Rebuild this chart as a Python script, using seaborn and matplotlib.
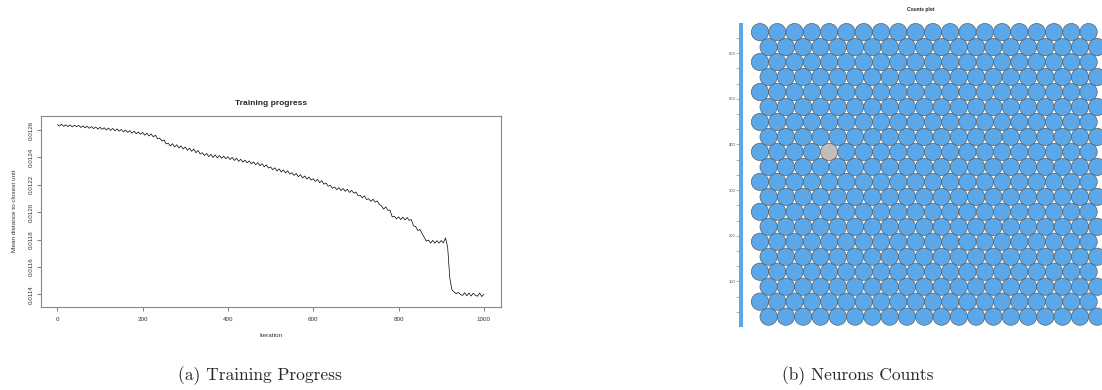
import numpy as np
import matplotlib
matplotlib.use("Agg")
import matplotlib.pyplot as plt
from matplotlib.patches import Circle
from matplotlib.collections import PatchCollection
import seaborn as sns

# ---------------------------------------------------------
# Data
# ---------------------------------------------------------
iterations = np.arange(0, 1001, 5)

# mean distance to closest unit, in units of 1e-6 (one row = 50 iterations)
mean_dist_e6 = [
    12640, 12628, 12642, 12626, 12638, 12624, 12637, 12622, 12634, 12625,
    12634, 12618, 12630, 12615, 12628, 12612, 12625, 12610, 12622, 12606,
    12620, 12604, 12616, 12600, 12614, 12597, 12611, 12594, 12608, 12591,
    12604, 12586, 12600, 12582, 12595, 12576, 12591, 12572, 12586, 12568,
    12582, 12562, 12577, 12556, 12571, 12549, 12562, 12536, 12541, 12519,
    12528, 12498, 12504, 12483, 12500, 12476, 12492, 12468, 12484, 12461,
    12476, 12452, 12468, 12444, 12461, 12434, 12450, 12424, 12434, 12414,
    12428, 12405, 12422, 12399, 12418, 12396, 12414, 12393, 12409, 12390,
    12405, 12384, 12400, 12377, 12394, 12371, 12386, 12365, 12380, 12360,
    12374, 12352, 12367, 12346, 12362, 12339, 12354, 12331, 12345, 12322,
    12330, 12310, 12324, 12300, 12316, 12293, 12308, 12286, 12302, 12278,
    12288, 12268, 12283, 12259, 12274, 12250, 12264, 12241, 12256, 12234,
    12244, 12224, 12239, 12215, 12230, 12204, 12214, 12189, 12196, 12174,
    12184, 12164, 12179, 12157, 12173, 12152, 12167, 12144, 12159, 12138,
    12147, 12122, 12124, 12104, 12119, 12092, 12098, 12079, 12094, 12073,
    12082, 12056, 12046, 12022, 12039, 12014, 12014, 11966, 11970, 11951,
    11966, 11946, 11964, 11944, 11961, 11940, 11946, 11899, 11896, 11866,
    11874, 11844, 11816, 11789, 11796, 11774, 11794, 11773, 11792, 11774,
    11793, 11776, 11812, 11745, 11520, 11434, 11418, 11404, 11415, 11399,
    11392, 11412, 11390, 11410, 11388, 11408, 11394, 11386, 11410, 11384,
    11402,
]
mean_dist = np.array(mean_dist_e6) * 1e-6

y_ticks = [0.0114, 0.0116, 0.0118, 0.0120, 0.0122, 0.0124, 0.0126]
x_ticks = [0, 200, 400, 600, 800, 1000]

# SOM grid (hexagonal), rows counted from the bottom
grid_rows = 20
grid_cols = 20
empty_units = [(11, 4)]

cbar_range = (0, 2000 / 3)
cbar_labels = [100, 200, 300, 400, 500, 600]
cbar_steps = 20

unit_colour = "#5AA8EA"
empty_colour = "#BEBEBE"

# ---------------------------------------------------------
# Figure
# ---------------------------------------------------------
sns.set_theme(style="white")
plt.rcParams["font.family"] = ["Liberation Sans", "DejaVu Sans"]

fig = plt.figure(figsize=(11.02, 3.90), dpi=100)

# --- (a) Training progress ---
ax = fig.add_axes([0.0369, 0.2136, 0.4177, 0.4897])
sns.lineplot(x=iterations, y=mean_dist, ax=ax, color="black", linewidth=0.5)
ax.set_xlim(-39, 1040)
ax.set_ylim(0.01131, 0.012704)
ax.set_xticks(x_ticks)
ax.set_xticklabels([str(t) for t in x_ticks])
ax.set_yticks(y_ticks)
ax.set_yticklabels([f"{t:.4f}" for t in y_ticks], rotation=90, va="center")
ax.tick_params(axis="both", labelsize=4.5, length=3.2, width=0.6,
               color="#666666", labelcolor="#333333", direction="out")
ax.tick_params(axis="x", pad=4)
ax.tick_params(axis="y", pad=2)
ax.tick_params(left=True, bottom=True)
for s in ax.spines.values():
    s.set_color("#8a8a8a")
    s.set_linewidth(0.8)
ax.set_title("Training progress", fontsize=6, fontweight="bold", pad=8)
ax.set_xlabel("Iteration", fontsize=4.6, color="#333333", labelpad=8)
ax.set_ylabel("Mean distance to closest unit", fontsize=4.6, color="#333333", labelpad=8)

# --- (b) Counts plot ---
axh = fig.add_axes([0.6802, 0.1615, 0.3202, 0.7828])
patches, colours = [], []
for r in range(grid_rows):
    for c in range(grid_cols):
        x = c + (0.5 if r % 2 == 0 else 0.0)
        y = r * np.sqrt(3) / 2
        patches.append(Circle((x, y), 0.5))
        colours.append(empty_colour if (r, c) in empty_units else unit_colour)
pc = PatchCollection(patches, facecolors=colours, edgecolors="#555555", linewidths=0.45)
axh.add_collection(pc)
axh.set_xlim(-0.6, 19.8)
axh.set_ylim(-0.6, (grid_rows - 1) * np.sqrt(3) / 2 + 0.6)
axh.set_axis_off()

axc = fig.add_axes([0.6706, 0.1615, 0.0039, 0.7803])
axc.set_facecolor(unit_colour)
axc.set_ylim(*cbar_range)
axc.set_xticks([])
axc.set_yticks(cbar_labels)
axc.set_yticklabels([str(v) for v in cbar_labels])
step = (cbar_range[1] - cbar_range[0]) / cbar_steps
axc.set_yticks([cbar_range[0] + i * step for i in range(1, cbar_steps)], minor=True)
axc.tick_params(axis="y", which="both", left=True, length=2.2, width=0.4,
                color="#777777", labelsize=3, labelcolor="#444444", pad=0.5)
for s in axc.spines.values():
    s.set_visible(False)

fig.text(921 / 1102, 1 - 10 / 390, "Counts plot", fontsize=3.5, fontweight="bold",
         ha="center", va="center")

# --- captions ---
fig.text(260 / 1102, 1 - 376 / 390, "(a) Training Progress", fontsize=12.5,
         family="cmr10", ha="center", va="center")
fig.text(858 / 1102, 1 - 376 / 390, "(b) Neurons Counts", fontsize=12.5,
         family="cmr10", ha="center", va="center")

fig.savefig("out.png", dpi=100)
plt.close(fig)
